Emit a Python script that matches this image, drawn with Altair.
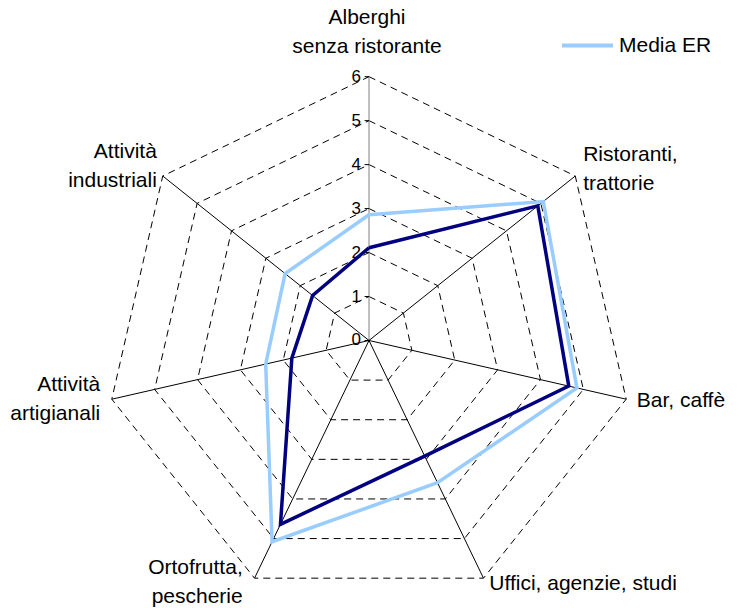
import altair as alt
import pandas as pd

# ---------------- data ----------------
categories = [
    "Alberghi\nsenza ristorante",
    "Ristoranti,\ntrattorie",
    "Bar, caffè",
    "Uffici, agenzie, studi",
    "Ortofrutta,\npescherie",
    "Attività\nartigianali",
    "Attività\nindustriali",
]
series_names = ["Comune", "Media ER"]
comune_values = [2.11, 4.91, 4.66, 2.92, 4.64, 1.80, 1.64]
media_er_values = [2.86, 5.07, 4.85, 3.59, 5.08, 2.41, 2.44]
grid_levels = [1, 2, 3, 4, 5, 6]
tick_values = [0, 1, 2, 3, 4, 5, 6]
axis_max = 6
n = len(categories)

# tables built from the arrays above (polygons closed by repeating the first vertex)
series_rows = []
for name, vals in zip(series_names, [comune_values, media_er_values]):
    for i in range(n + 1):
        series_rows.append({"series": name, "idx": i, "value": vals[i % n]})
series_df = pd.DataFrame(series_rows)

grid_df = pd.DataFrame(
    [{"level": L, "idx": i, "value": L} for L in grid_levels for i in range(n + 1)]
)
spoke_df = pd.DataFrame({"idx": list(range(n)), "value": [axis_max] * n})
tick_df = pd.DataFrame({"level": tick_values})
label_df = pd.DataFrame({"idx": list(range(n)), "label": categories})

# ---------------- styling ----------------
FONT = "Liberation Sans"
ANG = f"(2*PI*datum.idx/{n})"
W, H = 722, 600
xs = alt.Scale(domain=[-8.210, 8.210], nice=False, zero=False)
ys = alt.Scale(domain=[-6.084, 7.562], nice=False, zero=False)
X = alt.X("px:Q", scale=xs, axis=None)
Y = alt.Y("py:Q", scale=ys, axis=None)

grid = (
    alt.Chart(grid_df)
    .transform_calculate(px=f"datum.value*sin({ANG})", py=f"datum.value*cos({ANG})")
    .mark_line(strokeDash=[7, 5], color="#000000", strokeWidth=1)
    .encode(x=X, y=Y, detail="level:N", order="idx:Q")
)

spokes = (
    alt.Chart(spoke_df)
    .transform_calculate(
        px="0", py="0",
        px2=f"datum.value*sin({ANG})", py2=f"datum.value*cos({ANG})",
    )
    .mark_rule(strokeWidth=1)
    .encode(
        x=X, y=Y, x2="px2:Q", y2="py2:Q",
        color=alt.condition("datum.idx == 0", alt.value("#808080"), alt.value("#000000")),
    )
)

ticks = (
    alt.Chart(tick_df)
    .transform_calculate(px="-0.1", px2="0", py="datum.level")
    .mark_rule(strokeWidth=1, color="#000000")
    .encode(x=X, x2="px2:Q", y=Y)
)

tick_text = (
    alt.Chart(tick_df)
    .transform_calculate(px="0", py="datum.level")
    .mark_text(align="right", baseline="middle", dx=-8, fontSize=17, font=FONT, color="#000000")
    .encode(x=X, y=Y, text=alt.Text("level:Q", format="d"))
)

lines = (
    alt.Chart(series_df)
    .transform_calculate(px=f"datum.value*sin({ANG})", py=f"datum.value*cos({ANG})")
    .mark_line(strokeWidth=3.5, strokeJoin="miter")
    .encode(
        x=X, y=Y, order="idx:Q",
        color=alt.Color(
            "series:N",
            scale=alt.Scale(domain=series_names, range=["#000080", "#99CCFF"]),
            legend=alt.Legend(
                values=["Media ER"], title=None, orient="none",
                legendX=552, legendY=10, padding=0,
                symbolType="stroke", symbolSize=2601, symbolStrokeWidth=4,
                labelFontSize=21, labelFont=FONT, labelColor="#000000", labelOffset=4,
            ),
        ),
    )
)

# label placement styles: (radius along the spoke, align, dx, dy of first line)
label_styles = [
    (6.0, "center", -2, -58.7),
    (6.2, "left", 1, -16),
    (6.2, "left", 2, 0),
    (6.2, "left", 2, -2),
    (6.2, "right", -8, -18.6),
    (6.2, "right", -3, -15.7),
    (6.2, "right", 1, -18.2),
]

label_layers = []
for i, (radius, align, dx, dy) in enumerate(label_styles):
    label_layers.append(
        alt.Chart(label_df)
        .transform_filter(f"datum.idx == {i}")
        .transform_calculate(px=f"{radius}*sin({ANG})", py=f"{radius}*cos({ANG})")
        .mark_text(
            align=align, baseline="middle", dx=dx, dy=dy, lineBreak="\n",
            lineHeight=29, fontSize=21, font=FONT, color="#000000",
        )
        .encode(x=X, y=Y, text="label:N")
    )

chart = (
    alt.layer(grid, spokes, ticks, tick_text, lines, *label_layers)
    .properties(width=W, height=H, padding=0, autosize="none", background="white")
    .configure_view(stroke=None)
)

chart.save("out.html", embed_options={"renderer": "svg", "actions": False})
